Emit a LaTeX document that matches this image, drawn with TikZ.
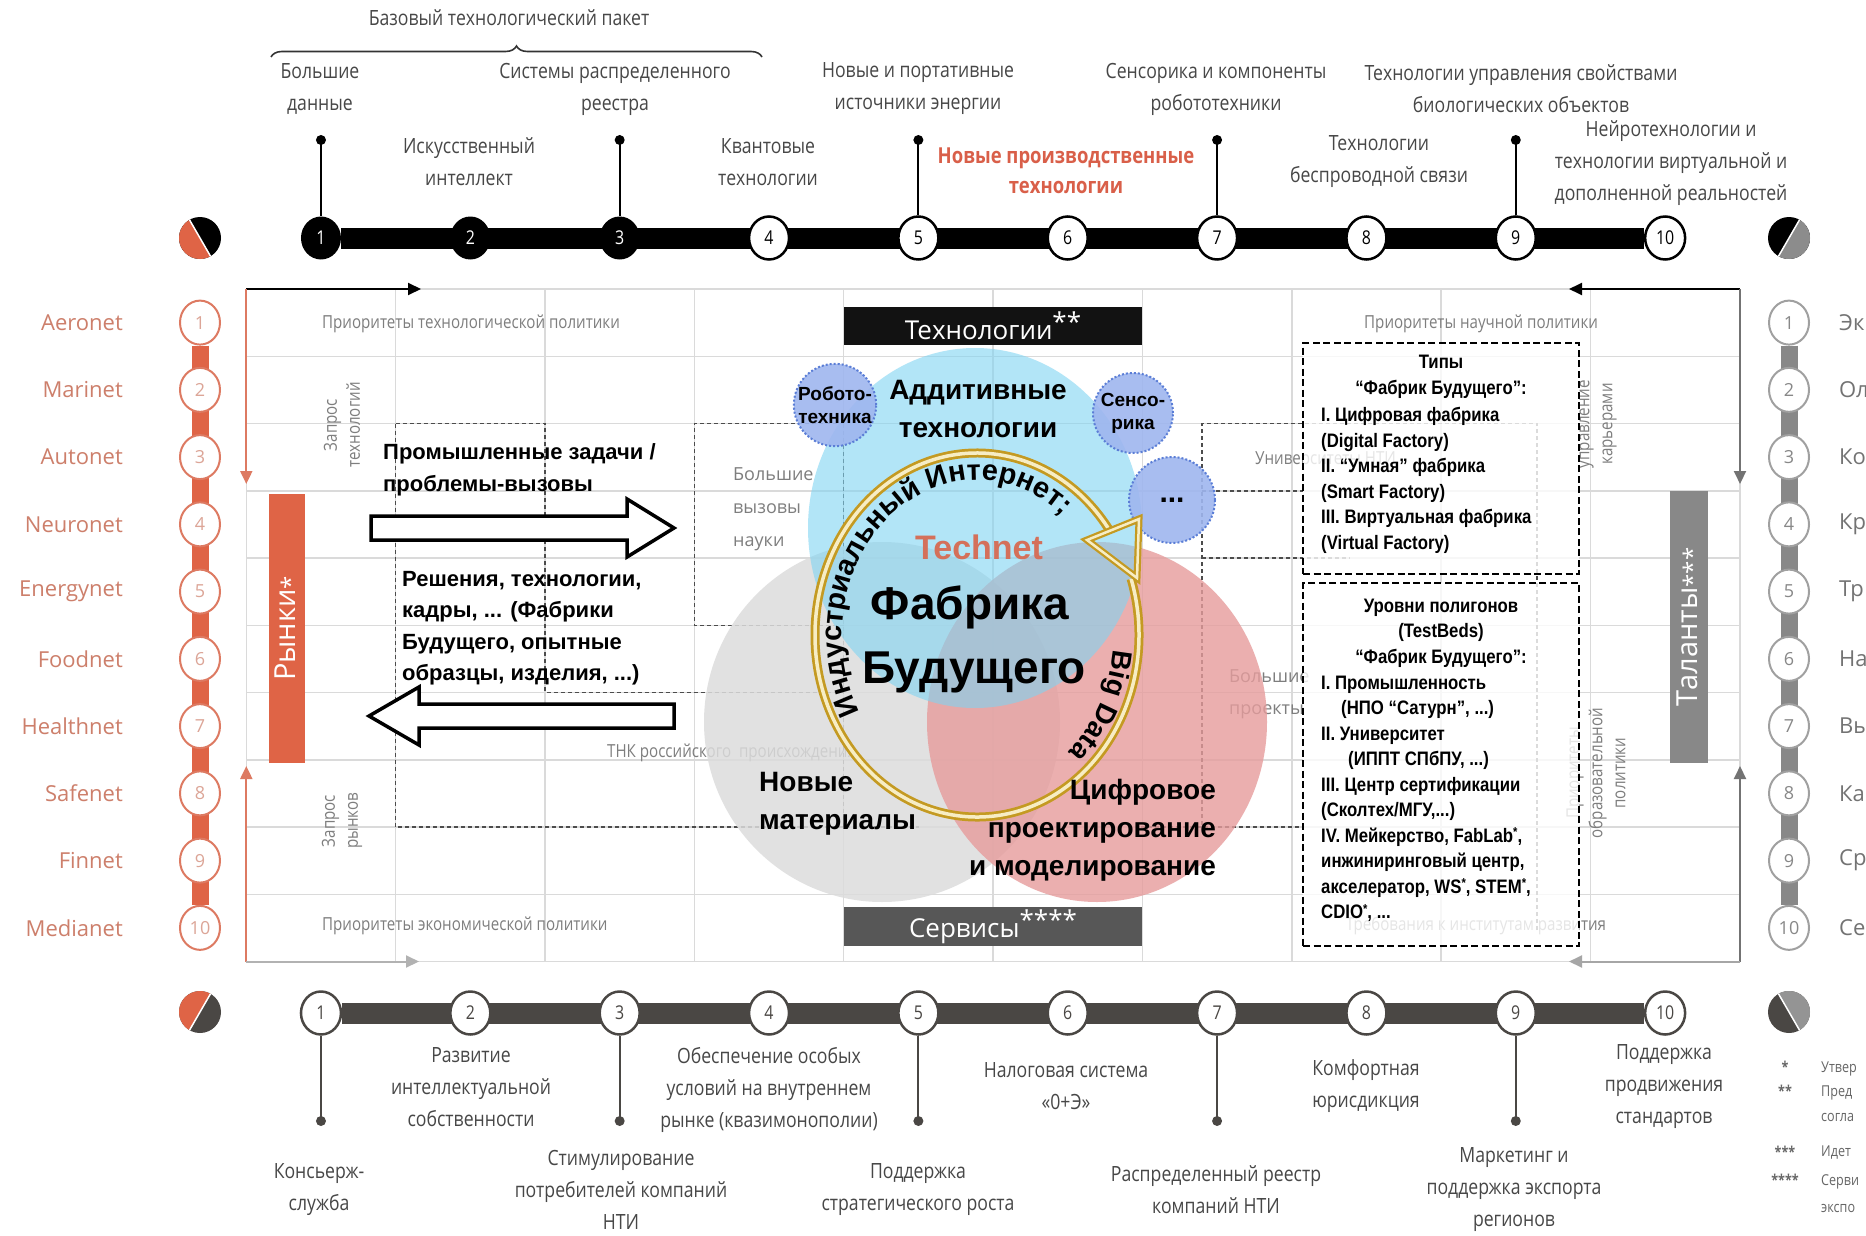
\documentclass[tikz,border=0pt]{standalone}
\usepackage{fontspec}
\setmainfont{Liberation Sans}
\newfontfamily\condf[FakeStretch=0.84]{Open Sans}
\newfontfamily\osf{Open Sans}
\newfontfamily\narrowf[FakeStretch=0.86]{Liberation Sans}
\usetikzlibrary{arrows.meta,shapes.geometric,decorations.text,decorations.pathreplacing}
\newcommand\fsz[2]{\fontsize{#1}{#2}\selectfont}
\pgfdeclarelayer{under}
\pgfsetlayers{under,main}

\definecolor{gridc}{HTML}{DADADA}
\definecolor{lblgray}{HTML}{7E7E7E}
\definecolor{toptext}{HTML}{474747}
\definecolor{oranbar}{HTML}{DF6446}
\definecolor{orantext}{HTML}{CD7F6B}
\definecolor{oranline}{HTML}{DD7A62}
\definecolor{botbar}{HTML}{4A4744}
\definecolor{rightbar}{HTML}{888888}
\definecolor{bluec}{HTML}{80D4F2}
\definecolor{redc}{HTML}{E69C9C}
\definecolor{grayc}{HTML}{DCDCDC}
\definecolor{smallb}{HTML}{9FB6EF}
\definecolor{smallbd}{HTML}{5B7ED6}
\definecolor{gold}{HTML}{C49A22}
\definecolor{palegold}{HTML}{F7EDC4}
\definecolor{technet}{HTML}{D4705A}
\definecolor{newprod}{HTML}{D95F49}

\begin{document}
\begin{tikzpicture}[x=1pt,y=-1pt,
  toplbl/.style={font=\condf\fsz{21}{32}, text=toptext, align=center, inner sep=0},
  glbl/.style={font=\condf\fsz{18}{23}, text=lblgray, inner sep=0},
  tcfull/.style={ellipse, minimum width=40, minimum height=43, inner sep=0, fill=black, text=white, font=\condf\fsz{19}{19}},
  tcopen/.style={ellipse, minimum width=40, minimum height=43, inner sep=0, fill=white, draw=black, line width=2.5, text=black, font=\condf\fsz{19}{19}},
  bcirc/.style={ellipse, minimum width=40, minimum height=43, inner sep=0, fill=white, draw=botbar, line width=2.5, text=botbar, font=\condf\fsz{19}{19}},
  lcirc/.style={ellipse, minimum width=40, minimum height=44, inner sep=0, fill=white, draw=oranline, line width=2, text=orantext!70, font=\osf\fsz{18}{18}},
  rcirc/.style={ellipse, minimum width=40, minimum height=44, inner sep=0, fill=white, draw=rightbar!80, line width=2, text=rightbar, font=\osf\fsz{18}{18}},
  gridline/.style={draw=gridc, line width=1.5},
  dline/.style={draw=black!70, line width=1.4, dash pattern=on 4pt off 3pt},
  tbox/.style={draw=black, line width=2.4, dash pattern=on 7pt off 3.5pt, fill=white, fill opacity=0.8, inner sep=0},
  btext/.style={font=\bfseries\fsz{22}{31.5}, align=left, inner sep=0},
  boxtext/.style={font=\narrowf\bfseries\fsz{19.5}{25.5}, inner sep=0},
  ctext/.style={font=\bfseries\fsz{28}{38}, inner sep=0},
  smallc/.style={circle, fill=smallb, fill opacity=0.9, text opacity=1, draw=smallbd, line width=2, dotted, inner sep=0, font=\bfseries\fsz{19}{23}, align=center},
  tip/.style={-{Triangle[length=13pt,width=12pt]}}
]
\useasboundingbox (0,0) rectangle (1866,1236);
\clip (0,0) rectangle (1866,1236);

% ---------- top timeline: technologies ----------
\node[toplbl] (basepack) at (509,18) {Базовый технологический пакет};
\coordinate (brL) at (271,57);
\coordinate (brR) at (762,57);
\draw[decorate, decoration={brace, amplitude=11pt}, line width=1.6, draw=black!80] (brL) -- (brR);

\foreach \i in {1,...,10}{
  \pgfmathsetmacro{\xx}{246.3+149.35*(\i-0.5)}
  \ifnum\i<4
    \node[tcfull] (t\i) at (\xx,238) {\i};
  \else
    \node[tcopen] (t\i) at (\xx,238) {\i};
  \fi
  \node[bcirc] (b\i) at (\xx,1013) {\i};
}
\foreach \i in {1,3,5,7,9}{
  \path (t\i) ++(0,-98) coordinate (tp\i);
  \draw[line width=2] (tp\i) -- (t\i.north);
  \fill (tp\i) circle[radius=5];
  \path (b\i) ++(0,108) coordinate (bp\i);
  \draw[line width=2, botbar] (bp\i) -- (b\i.south);
  \fill[botbar] (bp\i) circle[radius=5];
}

\node[toplbl] (tl1) at (320,89) {Большие\\данные};
\node[toplbl] (tl3) at (615,89) {Системы распределенного\\реестра};
\node[toplbl] (tl5) at (918,89) {Новые и портативные\\источники энергии};
\node[toplbl] (tl7) at (1216,89) {Сенсорика и компоненты\\робототехники};
\node[toplbl] (tl9) at (1521,89) {Технологии управления свойствами\\биологических объектов};
\node[toplbl] (tl2) at (469,162) {Искусственный\\интеллект};
\node[toplbl] (tl4) at (768,162) {Квантовые\\технологии};
\node[toplbl, font=\condf\bfseries\fsz{22}{30}, text=newprod] (tl6) at (1066,171) {Новые производственные\\технологии};
\node[toplbl] (tl8) at (1379,162) {Технологии\\беспроводной связи};
\node[toplbl] (tl10) at (1671,163) {Нейротехнологии и\\технологии виртуальной и\\дополненной реальностей};

% ---------- bottom timeline: services ----------
\node[toplbl] (bl2) at (471,1087) {Развитие\\интеллектуальной\\собственности};
\node[toplbl] (bl4) at (769,1090) {Обеспечение особых\\условий на внутреннем\\рынке (квазимонополии)};
\node[toplbl] (bl6) at (1066,1086) {Налоговая система\\«0+Э»};
\node[toplbl] (bl8) at (1366,1086) {Комфортная\\юрисдикция};
\node[toplbl] (bl10) at (1664,1087) {Поддержка\\продвижения\\стандартов};
\node[toplbl] (bl1) at (319,1190) {Консьерж-\\служба};
\node[toplbl] (bl3) at (621,1190) {Стимулирование\\потребителей компаний\\НТИ};
\node[toplbl] (bl5) at (918,1190) {Поддержка\\стратегического роста};
\node[toplbl] (bl7) at (1216,1190) {Распределенный реестр\\компаний НТИ};
\node[toplbl] (bl9) at (1514,1190) {Маркетинг и\\поддержка экспорта\\регионов};

% ---------- side columns ----------
\foreach \i/\nm in {1/Aeronet,2/Marinet,3/Autonet,4/Neuronet,5/Energynet,6/Foodnet,7/Healthnet,8/Safenet,9/Finnet,10/Medianet}{
  \pgfmathsetmacro{\yy}{322.6+67.25*(\i-1)}
  \node[lcirc] (l\i) at (200,\yy) {\i};
  \node[anchor=east, font=\osf\fsz{22}{22}, text=orantext, inner sep=0] (ln\i) at (123,\yy) {\nm};
}
\foreach \i/\nm in {1/Эк,2/Ол,3/Ко,4/Кр,5/Тр,6/На,7/Вы,8/Ка,9/Ср,10/Се}{
  \pgfmathsetmacro{\yy}{322.6+67.25*(\i-1)}
  \node[rcirc] (r\i) at (1789,\yy) {\i};
  \node[anchor=west, font=\osf\fsz{22}{22}, text=black!55, inner sep=0] (rn\i) at (1839,\yy) {\nm};
}

% legend
\node[font=\condf\bfseries\fsz{15}{15}, text=black!60] (s1) at (1785,1067) {*};
\node[font=\condf\bfseries\fsz{15}{15}, text=black!60] (s2) at (1785,1091) {**};
\node[font=\condf\bfseries\fsz{15}{15}, text=black!60] (s3) at (1785,1152) {***};
\node[font=\condf\bfseries\fsz{15}{15}, text=black!60] (s4) at (1785,1180) {****};
\node[anchor=west, font=\condf\fsz{15}{15}, text=black!60, inner sep=0] (lg1) at (1821,1069) {Утвер};
\node[anchor=west, font=\condf\fsz{15}{15}, text=black!60, inner sep=0] (lg2) at (1821,1093) {Пред};
\node[anchor=west, font=\condf\fsz{15}{15}, text=black!60, inner sep=0] (lg2b) at (1821,1117) {согла};
\node[anchor=west, font=\condf\fsz{15}{15}, text=black!60, inner sep=0] (lg3) at (1821,1153) {Идет};
\node[anchor=west, font=\condf\fsz{15}{15}, text=black!60, inner sep=0] (lg4) at (1821,1182) {Серви};
\node[anchor=west, font=\condf\fsz{15}{15}, text=black!60, inner sep=0] (lg4b) at (1821,1208) {экспо};

% corner icons
\begin{scope}
  \fill[black] (200,238) circle[radius=21];
  \fill[oranbar] (200,238) -- +(-120:21) arc[start angle=-120, end angle=-300, radius=21] -- cycle;
  \draw[white, line width=1.5] (200,238) +(-120:21) -- +(-300:21);
\end{scope}
\begin{scope}
  \fill[black] (1789,238) circle[radius=21];
  \fill[black!45] (1789,238) -- +(-240:21) arc[start angle=-240, end angle=-420, radius=21] -- cycle;
  \draw[white, line width=1.5] (1789,238) +(-240:21) -- +(-60:21);
\end{scope}
\begin{scope}
  \fill[botbar] (200,1012) circle[radius=21];
  \fill[oranbar] (200,1012) -- +(-60:21) arc[start angle=-60, end angle=-240, radius=21] -- cycle;
  \draw[white, line width=1.5] (200,1012) +(-60:21) -- +(-240:21);
\end{scope}
\begin{scope}
  \fill[botbar] (1789,1012) circle[radius=21];
  \fill[black!42] (1789,1012) -- +(60:21) arc[start angle=60, end angle=-120, radius=21] -- cycle;
  \draw[white, line width=1.5] (1789,1012) +(60:21) -- +(-120:21);
\end{scope}

% ---------- central grid ----------
\foreach \j in {0,...,10}
  \draw[gridline] (246.3,{289+67.25*\j}) -- (1740,{289+67.25*\j});
\foreach \i in {0,...,10}
  \draw[gridline] ({246.3+149.35*\i},289) -- ({246.3+149.35*\i},961.5);

\coordinate (fTL) at (246.3,289);
\coordinate (fTR) at (1740,289);
\coordinate (fBL) at (246.3,961.5);
\coordinate (fBR) at (1740,961.5);
\coordinate (aT1) at (421,289);
\coordinate (aL1) at (246.3,484);
\coordinate (aL2) at (246.3,766);
\coordinate (aB1) at (419,961.5);
\coordinate (aT2) at (1569,289);
\coordinate (aR1) at (1740,484);
\coordinate (aR2) at (1740,766);
\coordinate (aB2) at (1569,961.5);
\draw[line width=2, black, tip] (fTL) -- (aT1);
\draw[line width=2, oranline, tip] (fTL) -- (aL1);
\draw[line width=2, oranline, tip] (fBL) -- (aL2);
\draw[line width=2, black!30, tip] (fBL) -- (aB1);
\draw[line width=2, black, tip] (fTR) -- (aT2);
\draw[line width=2, black!55, tip] (fTR) -- (aR1);
\draw[line width=2, black!55, tip] (fBR) -- (aR2);
\draw[line width=2, black!35, tip] (fBR) -- (aB2);

\node[fill=oranbar, minimum width=36, minimum height=269, inner sep=0] (rynki) at (287,628.5) {};
\node[rotate=90, text=white, font=\osf\fsz{29}{29}] (rynkit) at (rynki) {Рынки\raisebox{-.1em}{\fsz{24}{24}*}};
\node[fill=rightbar, minimum width=38, minimum height=272, inner sep=0] (talanty) at (1689,627) {};
\node[rotate=90, text=white, font=\osf\fsz{29}{29}] (talantyt) at (talanty) {Таланты\raisebox{-.1em}{\fsz{24}{24}***}};

% grey row and column captions
\node[glbl, anchor=west] (ptp) at (322,324) {Приоритеты технологической политики};
\node[glbl, anchor=west] (pep) at (322,926) {Приоритеты экономической политики};
\node[glbl, anchor=west] (pnp) at (1364,324) {Приоритеты научной политики};
\node[glbl] (tir) at (1476,926) {Требования к институтам развития};
\node[glbl, rotate=90, align=center] (zt) at (342,425) {Запрос\\технологий};
\node[glbl, rotate=90, align=center] (zr) at (342,821) {Запрос\\рынков};
\node[glbl, rotate=90, align=center] (uk) at (1598,424) {управление\\карьерами};
\node[glbl, rotate=90, align=center] (pop) at (1596,773) {Приоритеты\\образовательной\\политики};
\node[glbl, anchor=west, font=\osf\fsz{18}{33}, align=left] (bvn) at (733,509) {Большие\\вызовы\\науки};
\node[glbl, anchor=west, font=\osf\fsz{18}{32}, align=left] (bpr) at (1229,694) {Большие\\проекты};
\node[glbl, anchor=west] (univ) at (1255,460) {Университеты НТИ};
\node[glbl, anchor=west] (tnk) at (607,753) {ТНК российского\ \ происхождения};

% dashed frames
\draw[dline] (395.6,423.5) -- (395.6,827) -- (919,827);
\draw[dline] (395.6,423.5) -- (545,423.5) -- (545,692.5) -- (843.7,692.5);
\draw[dline] (843.7,423.5) -- (694.4,423.5) -- (694.4,625.3) -- (843.7,625.3);
\draw[dline] (843.7,423.5) -- (843.7,827);
\draw[dline] (1537,930) -- (1537,423.5) -- (1202,423.5) -- (1202,827);
\draw[dline] (1202,490.8) -- (1303,490.8);
\draw[dline] (1202,558) -- (1350,558);
\draw[dline] (1141,827) -- (1303,827);

% ---------- Venn circles ----------
\fill[grayc, opacity=0.85] (882,722) ellipse[x radius=178, y radius=180];
\fill[redc, opacity=0.8] (1097,722) ellipse[x radius=170, y radius=180];
\fill[bluec, opacity=0.6] (975,528) ellipse[x radius=167, y radius=180];

\node[fill=black!93, minimum width=298.7, minimum height=38, inner sep=0, text=white, font=\osf\fsz{26}{26}] (tech) at (993,326) {Технологии\raisebox{.3em}{**}};
\node[fill=black!66, minimum width=298.7, minimum height=39, inner sep=0, text=white, font=\osf\fsz{26}{26}] (serv) at (993,926.5) {Сервисы\raisebox{.3em}{****}};

\node[smallc, minimum size=80] (robo) at (835,405) {Робото-\\техника};
\node[smallc, minimum size=80] (senso) at (1133,413) {Сенсо-\\рика};
\node[smallc, minimum size=86, font=\bfseries\fsz{30}{30}] (more) at (1172,500) {...};

% ring with arrow
\coordinate (rc) at (977,635);
\draw[gold, line width=9] (rc) ++(-35:162 and 182) arc[start angle=-35, end angle=-378, x radius=162, y radius=182];
\draw[palegold, line width=3.5] (rc) ++(-35:162 and 182) arc[start angle=-35, end angle=-378, x radius=162, y radius=182];
\draw[gold, line width=7, line join=miter] (1087,540) -- (1139,519) -- (1137,578) -- cycle;
\draw[palegold, line width=2.5, line join=miter] (1087,540) -- (1139,519) -- (1137,578) -- cycle;

\path[decorate, decoration={text along path, text align=center,
  text={|\bfseries\fsz{29}{29}|Индустриальный Интернет;}}]
  (rc) ++(-216:135 and 155) arc[start angle=-216, end angle=-44, x radius=135, y radius=155];
\path[decorate, decoration={text along path, text align=center,
  text={|\bfseries\fsz{28}{28}|Big Data}}]
  (rc) ++(0:137 and 157) arc[start angle=0, end angle=54, x radius=137, y radius=157];

\node[ctext, align=center] (addit) at (978,409) {Аддитивные\\технологии};
\node[font=\bfseries\fsz{34}{34}, text=technet, inner sep=0] (technet) at (979,547) {Technet};
\node[font=\bfseries\fsz{46}{46}, inner sep=0] (fab1) at (970,607) {Фабрика};
\node[font=\bfseries\fsz{46}{46}, inner sep=0] (fab2) at (974,672) {Будущего};
\node[ctext, align=left, anchor=west] (newmat) at (759,804) {Новые\\материалы};
\node[ctext, align=right, anchor=east] (digit) at (1216,830) {Цифровое\\проектирование\\и моделирование};

% ---------- left block arrows ----------
\node[btext, anchor=west] (tasks) at (383,470) {Промышленные задачи /\\проблемы-вызовы};
\draw[line width=3.5, fill=white, line join=miter] (371,516) -- (627,516) -- (627,499) -- (674,528) -- (627,557) -- (627,540) -- (371,540) -- cycle;
\node[btext, anchor=west] (solut) at (402,628) {Решения, технологии,\\кадры, ... (Фабрики\\Будущего, опытные\\образцы, изделия, ...)};
\draw[line width=3.5, fill=white, line join=miter] (674,704) -- (419,704) -- (419,687) -- (369,716) -- (419,745) -- (419,728) -- (674,728) -- cycle;

% ---------- right dashed boxes ----------
\node[tbox, minimum width=276, minimum height=231] (box1) at (1441,458.5) {};
\node[tbox, minimum width=276, minimum height=363] (box2) at (1441,764.5) {};
\node[boxtext, align=center] (b1t) at (1441,377) {Типы\\“Фабрик Будущего”:};
\node[boxtext, align=left, anchor=west] (b1l) at (1321,480.5) {I. Цифровая фабрика\\(Digital Factory)\\II. “Умная” фабрика\\(Smart Factory)\\III. Виртуальная фабрика\\(Virtual Factory)};
\node[boxtext, align=center] (b2t) at (1441,633) {Уровни полигонов\\(TestBeds)\\“Фабрик Будущего”:};
\node[boxtext, align=left, anchor=west] (b2l) at (1321,799) {I. Промышленность\\\hspace*{20pt}(НПО “Сатурн”, ...)\\II. Университет\\\hspace*{27pt}(ИППТ СПбПУ, ...)\\III. Центр сертификации\\(Сколтех/МГУ,...)\\IV. Мейкерство, FabLab\raisebox{.3em}{\fsz{13}{13}*},\\инжиниринговый центр,\\акселератор, WS\raisebox{.3em}{\fsz{13}{13}*}, STEM\raisebox{.3em}{\fsz{13}{13}*},\\CDIO\raisebox{.3em}{\fsz{13}{13}*}, ...};

% ---------- bars under the markers ----------
\begin{pgfonlayer}{under}
  \fill[white] (0,0) rectangle (1866,1236);
  \draw[line width=21, black] (t1) -- (t10);
  \draw[line width=21, botbar] (b1) -- (b10);
  \draw[line width=17, oranbar] (l1) -- (l10);
  \draw[line width=17, rightbar] (r1) -- (r10);
\end{pgfonlayer}
\end{tikzpicture}
\end{document}
